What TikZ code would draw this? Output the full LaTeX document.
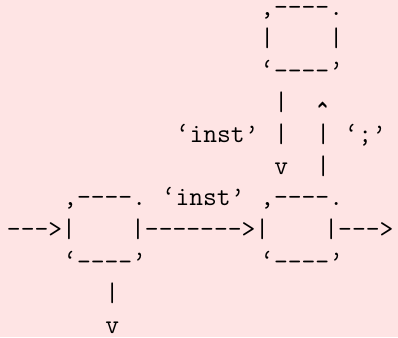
\documentclass[tikz,border=0pt]{standalone}
\usepackage{tikz}
\usepackage{xcolor}
\usepackage{graphicx}

\definecolor{sheetpink}{RGB}{254,228,228}
\tikzset{ascii/.style={anchor=base west,inner sep=0pt,font=\fontsize{20.1}{24}\selectfont\ttfamily}}
% raised bottom edge and taller caret, as in the old typewriter font
\newcommand{\boxfloor}{\raisebox{0.45em}{\_\_\_\_}}
\newcommand{\upcaret}{\makebox[0.525em]{\raisebox{-0.74em}[0.6em][0pt]{\scalebox{0.8}[1.7]{\textasciicircum}}}}

\begin{document}
\begin{tikzpicture}[x=0.75pt,y=0.75pt,yscale=-1,xscale=1]
%set diagram left start at 0, and has height of 337
\fill [sheetpink] (0,0) rectangle (398,337);

% Top box
\draw (260.0,15.0) node (topT) [ascii,text height=0.5em] {,----.};
\draw (260.0,46.8) node (topM) [ascii] {|~~~~|};
\draw (260.0,78.6) node (topB) [ascii] {\textquoteleft\boxfloor\textquoteright};

% Text Node
\draw (274.0,110.4) node (downA) [ascii] {|};
\draw (316.2,110.4) node (upA) [ascii] {\upcaret};
% Text Node
\draw (175.5,142.2) node (instUp) [ascii] {\textquoteleft inst\textquoteright};
\draw (274.0,142.2) node (downB) [ascii] {|};
\draw (316.2,142.2) node (upB) [ascii] {|};
\draw (344.4,142.2) node (semi) [ascii] {\textquoteleft;\textquoteright};
% Text Node
\draw (274.0,174.0) node (downC) [ascii] {v};
\draw (316.2,174.0) node (upC) [ascii] {|};

% Left and right boxes
\draw (63.0,205.8) node (leftT) [ascii] {,----.};
\draw (161.5,205.8) node (instMid) [ascii] {\textquoteleft inst\textquoteright};
\draw (260.0,205.8) node (rightT) [ascii] {,----.};
\draw (6.7,237.6) node (flow) [ascii] {--->|~~~~|------->|~~~~|--->};
\draw (63.0,269.4) node (leftB) [ascii] {\textquoteleft\boxfloor\textquoteright};
\draw (260.0,269.4) node (rightB) [ascii] {\textquoteleft\boxfloor\textquoteright};

% Text Node
\draw (105.2,301.2) node (outA) [ascii] {|};
\draw (105.2,333.0) node (outB) [ascii] {v};

\end{tikzpicture}
\end{document}
